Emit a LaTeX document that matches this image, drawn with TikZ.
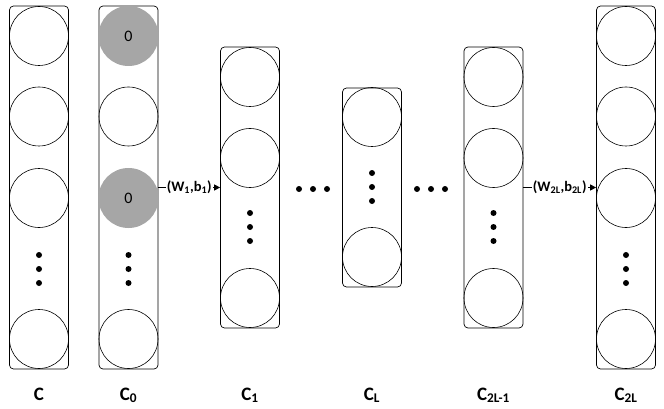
\documentclass[tikz,border=0pt]{standalone}
\usepackage{fontspec}
\setmainfont{Carlito}
\usetikzlibrary{arrows.meta}

\definecolor{zerogray}{RGB}{166,166,166}

\begin{document}
\begin{tikzpicture}[x=1pt,y=-1pt,
    layer/.style={draw, rounded corners=4pt, line width=0.7pt, minimum width=59pt, inner sep=0pt},
    unit/.style={draw, circle, minimum size=59pt, inner sep=0pt, line width=0.6pt},
    zero/.style={circle, fill=zerogray, minimum size=60pt, inner sep=0pt, font=\fontsize{16}{18}\selectfont},
    colname/.style={anchor=base, font=\fontsize{19}{22}\selectfont\bfseries},
    wb/.style={fill=white, inner sep=1pt, font=\fontsize{14.5}{16}\selectfont\bfseries},
    flow/.style={line width=1pt, -{Triangle[length=6pt,width=6pt]}}]

\useasboundingbox (0,0) rectangle (664,409);

% layer boxes
\node[layer, minimum height=363pt] (boxC)    at (39,187.5)    {};
\node[layer, minimum height=363pt] (boxC0)   at (128.5,187.5) {};
\node[layer, minimum height=281pt] (boxC1)   at (250,187.5)   {};
\node[layer, minimum height=199pt] (boxCL)   at (372,187.5)   {};
\node[layer, minimum height=281pt] (boxCtm)  at (493.5,187.5) {};
\node[layer, minimum height=363pt] (boxCt)   at (626,187.5)   {};

% wide columns
\foreach \x/\n in {39/C,626/Ct}
    \foreach \y/\i in {36/1,116.5/2,198/3,339/4}
        \node[unit] (\n-\i) at (\x,\y) {};

\node[zero] (C0-1) at (128.5,36)  {0};
\node[unit] (C0-2) at (128.5,116.5) {};
\node[zero] (C0-3) at (128.5,198) {0};
\node[unit] (C0-4) at (128.5,339) {};

% narrow columns
\foreach \x/\n in {250/C1,493.5/Ctm}
    \foreach \y/\i in {77/1,158/2,298/3}
        \node[unit] (\n-\i) at (\x,\y) {};

\node[unit] (CL-1) at (372,117) {};
\node[unit] (CL-2) at (372,257) {};

% dots
\foreach \x in {39,128.5,626}
    \foreach \y in {255,269,283}
        \fill (\x,\y) circle (3pt);

\foreach \x in {250,493.5}
    \foreach \y in {213,227,241}
        \fill (\x,\y) circle (3pt);

\foreach \y in {173,187,201}
    \fill (372,\y) circle (3pt);

\foreach \x in {299,313,327,417,431,445}
    \fill (\x,189) circle (3pt);

% weights
\draw[flow] (boxC0) -- node[wb] {(W\textsubscript{1},b\textsubscript{1})} (boxC1);
\draw[flow] (boxCtm) -- node[wb] {(W\textsubscript{2L},b\textsubscript{2L})} (boxCt);

% names
\node[colname] (nC)   at (39,400)    {C};
\node[colname] (nC0)  at (128.5,400) {C\textsubscript{0}};
\node[colname] (nC1)  at (250,400)   {C\textsubscript{1}};
\node[colname] (nCL)  at (372,400)   {C\textsubscript{L}};
\node[colname] (nCtm) at (493.5,400) {C\textsubscript{2L-1}};
\node[colname] (nCt)  at (626,400)   {C\textsubscript{2L}};

\end{tikzpicture}
\end{document}
